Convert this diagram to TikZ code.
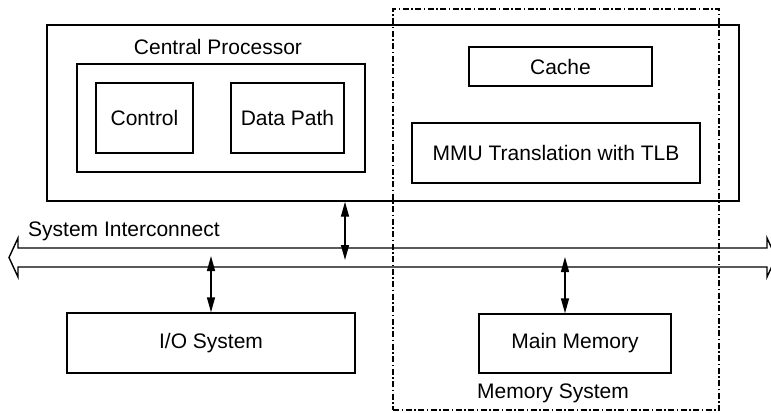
\documentclass[tikz,border=0pt]{standalone}
\usepackage{fontspec}
\setmainfont{Liberation Sans}
\usetikzlibrary{arrows.meta}

\tikzset{
  box/.style={draw, line width=1.4bp, inner sep=0pt},
  sysbox/.style={draw, line width=1.2bp, inner sep=0pt,
    dash pattern=on 6bp off 2.5bp on 1.5bp off 2.5bp},
  link/.style={line width=1.4bp, {Triangle[length=15bp,width=8bp]}-{Triangle[length=15bp,width=8bp]}},
  label/.style={inner sep=0pt}
}

\begin{document}
\begin{tikzpicture}[x=1bp, y=-1bp, font=\fontsize{21bp}{25bp}\selectfont]

	\path[use as bounding box, clip] (0,0) rectangle (771,412);

	% Bus dimensions
	\def\bustop{248}
	\def\busbot{267}
	\def\busmid{257.5}

	% Processor chip
	\node[box, minimum width=692bp, minimum height=176bp] (cpu) at (393,113) {};
	\node[box, minimum width=288bp, minimum height=108bp] (core) at (221,118) {};
	\node[label] (corelabel) at (218,47) {Central Processor};
	\node[box, minimum width=97bp, minimum height=70bp] (control) at (144.5,118) {Control};
	\node[box, minimum width=113bp, minimum height=70bp] (datapath) at (287.5,118) {Data Path};
	\node[box, minimum width=183bp, minimum height=39bp] (cache) at (560.5,66.5) {Cache};
	\node[box, minimum width=288bp, minimum height=60bp] (mmu) at (556,153) {MMU Translation with TLB};

	% Memory system
	\node[sysbox, minimum width=326bp, minimum height=401bp] (memsys) at (556,209.5) {};
	\node[label] (memsyslabel) at (553,393) {Memory System};

	% Bottom boxes
	\node[box, minimum width=288bp, minimum height=60bp] (io) at (211,343) {I/O System};
	\node[box, minimum width=192bp, minimum height=59bp] (mem) at (575,343.5) {Main Memory};

	% System interconnect
	\draw[line width=1.4bp] (18,\bustop) -- (767,\bustop) -- (767,238) -- (776,\busmid)
		-- (767,277) -- (767,\busbot) -- (18,\busbot) -- (18,277) -- (9,\busmid)
		-- (18,238) -- cycle;
	\node[label, anchor=west] (buslabel) at (28,231) {System Interconnect};

	% Bus taps
	\coordinate (cputap) at (345,260);
	\coordinate (iotap) at (211,256);
	\coordinate (memtap) at (565,257);

	\draw[link] (cpu.south -| cputap) -- (cputap);
	\draw[link] (iotap) -- (io.north);
	\draw[link] (memtap) -- (mem.north -| memtap);

\end{tikzpicture}
\end{document}
